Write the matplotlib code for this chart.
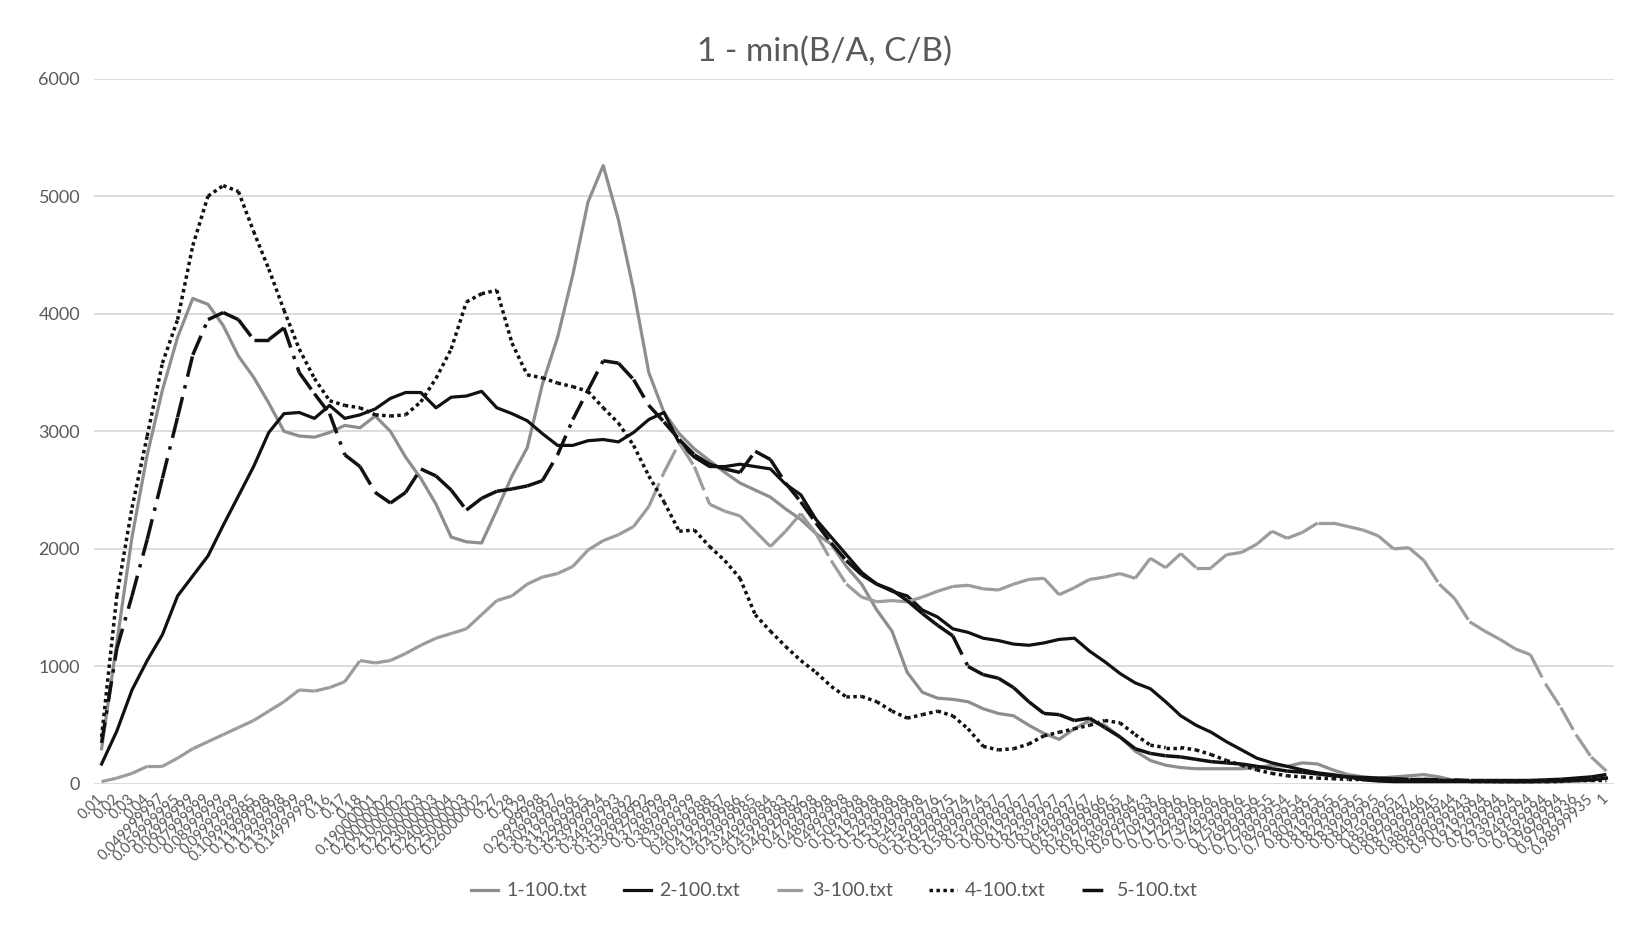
import numpy as np
import matplotlib
matplotlib.use('Agg')
import matplotlib.pyplot as plt
from matplotlib.collections import LineCollection
from matplotlib.lines import Line2D

plt.rcParams['font.family'] = ['Lato', 'DejaVu Sans']

# ---------------- data ----------------
title = '1 - min(B/A, C/B)'
series_names = ['1-100.txt', '2-100.txt', '3-100.txt', '4-100.txt', '5-100.txt']

s1 = [300, 1200, 2100, 2800, 3350, 3800, 4130, 4080, 3900, 3640,
      3460, 3240, 3000, 2960, 2950, 2990, 3050, 3030, 3130, 3000,
      2780, 2600, 2380, 2100, 2060, 2050, 2330, 2620, 2860, 3400,
      3800, 4330, 4950, 5260, 4800, 4200, 3500, 3160, 2980, 2850,
      2750, 2650, 2560, 2500, 2440, 2340, 2250, 2130, 2040, 1850,
      1700, 1480, 1300, 950, 780, 730, 720, 700, 640, 600,
      580, 500, 430, 380, 470, 540, 500, 400, 280, 200,
      160, 140, 130, 130, 130, 130, 140, 160, 150, 180,
      170, 120, 80, 60, 50, 60, 70, 80, 60, 30,
      20, 20, 15, 15, 15, 15, 20, 25, 30, 50]

s2 = [170, 450, 800, 1050, 1270, 1600, 1770, 1940, 2200, 2450,
      2700, 2990, 3150, 3160, 3110, 3220, 3110, 3140, 3190, 3280,
      3330, 3330, 3200, 3290, 3300, 3340, 3200, 3150, 3090, 2980,
      2880, 2880, 2920, 2930, 2910, 2990, 3100, 3160, 2900, 2780,
      2700, 2700, 2720, 2700, 2680, 2550, 2460, 2250, 2100, 1950,
      1800, 1700, 1640, 1600, 1480, 1420, 1320, 1290, 1240, 1220,
      1190, 1180, 1200, 1230, 1240, 1130, 1040, 940, 860, 810,
      700, 580, 500, 440, 360, 290, 220, 180, 150, 120,
      95, 80, 60, 35, 25, 20, 20, 20, 20, 20,
      20, 20, 20, 20, 20, 25, 25, 30, 35, 50]

s3 = [20, 50, 90, 150, 150, 220, 300, 360, 420, 480,
      540, 620, 700, 800, 790, 820, 870, 1050, 1030, 1050,
      1110, 1180, 1240, 1280, 1320, 1440, 1560, 1600, 1700, 1760,
      1790, 1850, 1990, 2070, 2120, 2190, 2360, 2650, 2900, 2700,
      2380, 2320, 2280, 2150, 2020, 2150, 2300, 2130, 1900, 1700,
      1590, 1550, 1560, 1550, 1590, 1640, 1680, 1690, 1660, 1650,
      1700, 1740, 1750, 1610, 1670, 1740, 1760, 1790, 1750, 1920,
      1840, 1960, 1840, 1840, 1950, 1970, 2040, 2150, 2090, 2140,
      2220, 2220, 2190, 2160, 2110, 2000, 2010, 1900, 1700, 1580,
      1380, 1300, 1230, 1150, 1100, 850, 650, 420, 230, 110]

s4 = [400, 1600, 2350, 2960, 3580, 3950, 4580, 5000, 5090, 5040,
      4700, 4380, 4030, 3700, 3450, 3260, 3220, 3200, 3140, 3130,
      3140, 3250, 3450, 3700, 4100, 4170, 4200, 3750, 3480, 3455,
      3410, 3380, 3340, 3200, 3070, 2880, 2620, 2400, 2150, 2160,
      2020, 1900, 1750, 1440, 1300, 1170, 1050, 950, 830, 740,
      745, 700, 620, 560, 590, 620, 580, 470, 320, 290,
      300, 340, 410, 440, 470, 500, 540, 520, 420, 330,
      310, 310, 290, 250, 200, 160, 120, 90, 70, 60,
      50, 45, 40, 40, 35, 30, 30, 30, 30, 30,
      25, 25, 25, 25, 25, 25, 25, 30, 30, 30]

s5 = [350, 1150, 1600, 2080, 2600, 3120, 3650, 3950, 4010, 3950,
      3780, 3780, 3880, 3500, 3320, 3150, 2800, 2700, 2480, 2390,
      2480, 2680, 2620, 2500, 2330, 2430, 2490, 2510, 2535, 2580,
      2800, 3100, 3350, 3600, 3580, 3440, 3220, 3080, 2930, 2800,
      2720, 2680, 2650, 2830, 2760, 2560, 2400, 2220, 2050, 1900,
      1780, 1700, 1650, 1560, 1450, 1350, 1260, 1000, 930, 900,
      820, 700, 600, 590, 540, 560, 480, 400, 300, 260,
      240, 230, 210, 190, 180, 170, 150, 130, 110, 100,
      85, 70, 60, 55, 50, 45, 40, 40, 35, 35,
      30, 30, 30, 30, 30, 35, 40, 50, 60, 80]

# category labels: running float32 sum of 0.01, last one "1"
_step = np.float32(0.01)
_acc = np.float32(0.0)
x_labels = []
for _k in range(99):
    _acc = np.float32(_acc + _step)
    x_labels.append(str(_acc))
x_labels.append('1')

y_ticks = [0, 1000, 2000, 3000, 4000, 5000, 6000]

# ---------------- styling ----------------
TXT = '#595959'
GRID = '#d9d9d9'
GRAY1 = '#8e8e8e'
GRAY3 = '#9c9c9c'
BLACK = '#111111'
LW = 2.3

W, H = 1643, 926
fig = plt.figure(figsize=(W / 100, H / 100), dpi=100)
ax = fig.add_axes([94 / W, 1 - 784 / H, (1614 - 94) / W, (784 - 78.6) / H])

x = np.arange(len(x_labels))


def restart_dashed(ax, xv, yv, color, lw, pattern, z):
    """Excel-like dashed line: the dash pattern restarts at each data point."""
    pts = np.column_stack([xv, np.asarray(yv, dtype=float)])
    segs = np.stack([pts[:-1], pts[1:]], axis=1)
    lc = LineCollection(segs, colors=color, linewidths=lw,
                        linestyles=[(0, pattern)], zorder=z)
    lc.set_capstyle('butt')
    ax.add_collection(lc)


ax.plot(x, s1, color=GRAY1, lw=LW, solid_joinstyle='round', zorder=3)
ax.plot(x, s2, color=BLACK, lw=LW, solid_joinstyle='round', zorder=4)
restart_dashed(ax, x, s3, GRAY3, LW, (8, 2.2), 5)
restart_dashed(ax, x, s4, BLACK, LW + 0.2, (1, 1), 6)
restart_dashed(ax, x, s5, BLACK, LW + 0.2, (6, 2.5, 1, 2.5), 7)

ax.set_xlim(-0.5, len(x_labels) - 0.5)
ax.set_ylim(0, 6000)
ax.set_yticks(y_ticks)
ax.set_yticklabels([str(v) for v in y_ticks])
ax.set_xticks(x)
ax.set_xticklabels(x_labels, rotation=45, ha='right', va='center',
                   rotation_mode='anchor')

ax.yaxis.grid(True, color=GRID, lw=1.3)
ax.set_axisbelow(True)
for sp in ax.spines.values():
    sp.set_visible(False)
ax.tick_params(axis='both', length=0, colors=TXT)
ax.tick_params(axis='y', labelsize=13, pad=10)
ax.tick_params(axis='x', labelsize=10.5, pad=9)

fig.text(0.502, 1 - 52 / H, title, ha='center', va='center',
         fontsize=24, color=TXT)

handles = [
    Line2D([], [], color=GRAY1, lw=LW),
    Line2D([], [], color=BLACK, lw=LW),
    Line2D([], [], color=GRAY3, lw=LW, ls=(0, (8, 2.2))),
    Line2D([], [], color=BLACK, lw=LW + 0.2, ls=(0, (1, 1))),
    Line2D([], [], color=BLACK, lw=LW + 0.2, ls=(0, (6, 2.5, 1, 2.5))),
]
fig.legend(handles, series_names, loc='center', bbox_to_anchor=(0.508, 1 - 891 / H),
           ncol=5, frameon=False, fontsize=14, labelcolor=TXT,
           handlelength=1.4, handletextpad=0.4, columnspacing=1.9)

fig.savefig('out.png', dpi=100)
